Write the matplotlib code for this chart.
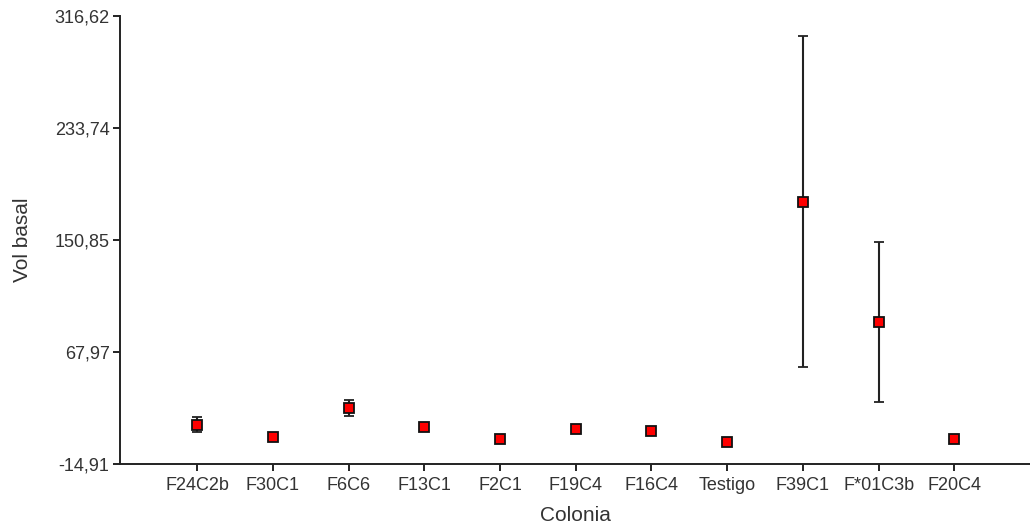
import matplotlib
matplotlib.use("Agg")
import matplotlib.pyplot as plt

colonias = ["F24C2b", "F30C1", "F6C6", "F13C1", "F2C1", "F19C4", "F16C4",
            "Testigo", "F39C1", "F*01C3b", "F20C4"]
medias = [14.2, 5.0, 26.6, 12.4, 3.8, 11.2, 9.2, 1.3, 179.2, 89.9, 3.8]
errores = [5.4, 1.0, 5.7, 2.2, 1.0, 2.0, 1.5, 1.0, 122.4, 59.2, 1.0]
y_ticks = [-14.91, 67.97, 150.85, 233.74, 316.62]
y_labels = ["-14,91", "67,97", "150,85", "233,74", "316,62"]

plt.rcParams['font.family'] = ['Liberation Sans', 'DejaVu Sans']

fig = plt.figure(figsize=(10.30, 5.29), dpi=100)
ax = fig.add_axes([120/1030, 1-464/529, 1-120/1030, (464-16)/529])

x = list(range(len(colonias)))
ax.errorbar(x, medias, yerr=errores, fmt='s', color='black', ecolor='#222222',
            elinewidth=1.5, capsize=3.6, capthick=1.5,
            markerfacecolor='#ff0000', markeredgecolor='#111111',
            markersize=7, markeredgewidth=1.3, zorder=3)

ax.set_xlim(-1.02, 11.0)
ax.set_ylim(y_ticks[0], y_ticks[-1])
ax.set_xticks(x)
ax.set_xticklabels(colonias)
ax.set_yticks(y_ticks)
ax.set_yticklabels(y_labels)

for s in ['top', 'right']:
    ax.spines[s].set_visible(False)
for s in ['left', 'bottom']:
    ax.spines[s].set_linewidth(1.4)
    ax.spines[s].set_color('#222222')

ax.tick_params(axis='both', direction='out', length=5, width=1.4, color='#222222',
               labelsize=13, labelcolor='#333333')
ax.tick_params(axis='x', pad=4)
ax.tick_params(axis='y', pad=2.5)
ax.set_xlabel("Colonia", fontsize=15, color='#333333', labelpad=9)
ax.set_ylabel("Vol basal", fontsize=15, color='#333333', labelpad=16)

fig.savefig("out.png", dpi=100)
